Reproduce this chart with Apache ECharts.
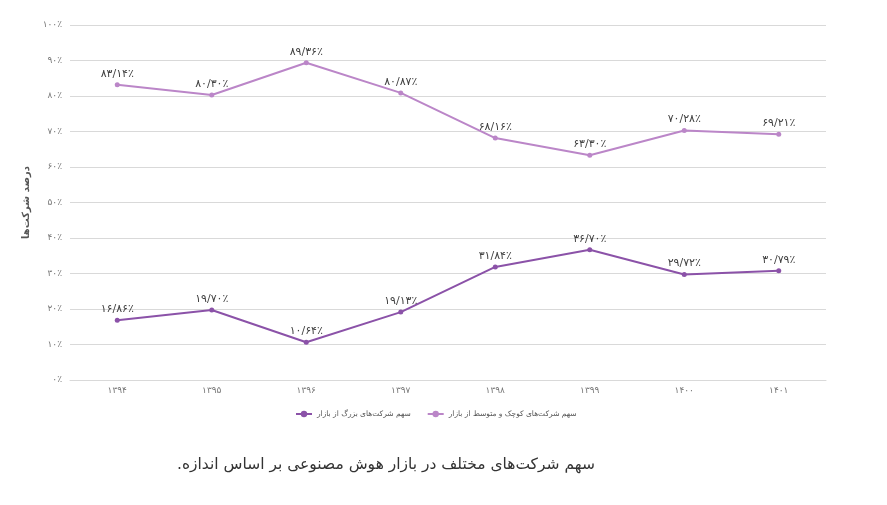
<!DOCTYPE html>
<html>
<head>
<meta charset="utf-8">
<script src="https://cdn.jsdelivr.net/npm/echarts@6/dist/echarts.min.js"></script>
<style>
  html, body { margin: 0; padding: 0; background: #fff; }
  #chart { width: 887px; height: 505px; }
</style>
</head>
<body>
<div id="chart"></div>
<script>
// data
var years = ['1394', '1395', '1396', '1397', '1398', '1399', '1400', '1401'];
var bigShare = [16.86, 19.70, 10.64, 19.13, 31.84, 36.70, 29.72, 30.79];
var smallShare = [83.14, 80.30, 89.36, 80.87, 68.16, 63.30, 70.28, 69.21];
var bigName = 'سهم شرکت‌های بزرگ از بازار';
var smallName = 'سهم شرکت‌های کوچک و متوسط از بازار';
var axisName = 'درصد شرکت‌ها';
// trailing RLM keeps the full stop on the left side
var captionText = 'سهم شرکت‌های مختلف در بازار هوش مصنوعی بر اساس اندازه.\u200F';

var faFont = '"DejaVu Sans", "Noto Sans", sans-serif';

function toFa(s) {
  return String(s).replace(/[0-9]/g, function (d) {
    return String.fromCharCode(0x06F0 + Number(d));
  });
}
function pctLabel(v) {
  return toFa(v.toFixed(2)).replace('.', '/') + '٪';
}

var dom = document.getElementById('chart');
var myChart = echarts.init(dom, null, { renderer: 'canvas' });

var option = {
  animation: false,
  title: {
    text: captionText,
    left: 172,
    top: 452,
    textStyle: {
      color: '#333',
      fontSize: 15.5,
      fontWeight: 'normal',
      fontFamily: faFont
    }
  },
  legend: {
    data: [bigName, smallName],
    left: 290,
    top: 405,
    itemWidth: 16,
    itemHeight: 8,
    itemGap: 16,
    textStyle: {
      color: '#555',
      fontSize: 7.5,
      fontFamily: faFont
    }
  },
  grid: {
    left: 70,
    right: 61,
    top: 25,
    bottom: 125
  },
  xAxis: {
    type: 'category',
    data: years,
    boundaryGap: true,
    axisLine: { lineStyle: { color: '#d9d9d9' } },
    axisTick: { show: false },
    axisLabel: {
      color: '#777',
      fontSize: 9,
      margin: 6,
      fontFamily: faFont,
      formatter: function (v) { return toFa(v); }
    }
  },
  yAxis: {
    type: 'value',
    min: 0,
    max: 100,
    interval: 10,
    name: axisName,
    nameLocation: 'middle',
    nameGap: 38,
    nameTextStyle: {
      color: '#555',
      fontSize: 10,
      fontWeight: 'bold',
      fontFamily: faFont
    },
    axisLine: { show: false },
    axisTick: { show: false },
    splitLine: { lineStyle: { color: '#d9d9d9' } },
    axisLabel: {
      color: '#777',
      fontSize: 9,
      margin: 8,
      fontFamily: faFont,
      formatter: function (v) { return toFa(v) + '٪'; }
    }
  },
  series: [
    {
      name: bigName,
      type: 'line',
      data: bigShare,
      symbol: 'circle',
      symbolSize: 5,
      lineStyle: { color: '#8b52a8', width: 2 },
      itemStyle: { color: '#8b52a8' },
      label: {
        show: true,
        position: 'top',
        distance: 3,
        color: '#404040',
        fontSize: 11,
        fontFamily: faFont,
        formatter: function (p) { return pctLabel(p.value); }
      }
    },
    {
      name: smallName,
      type: 'line',
      data: smallShare,
      symbol: 'circle',
      symbolSize: 5,
      lineStyle: { color: '#bb86c8', width: 2 },
      itemStyle: { color: '#bb86c8' },
      label: {
        show: true,
        position: 'top',
        distance: 3,
        color: '#404040',
        fontSize: 11,
        fontFamily: faFont,
        formatter: function (p) { return pctLabel(p.value); }
      }
    }
  ]
};

myChart.setOption(option);
window.addEventListener('resize', myChart.resize);
</script>
</body>
</html>
